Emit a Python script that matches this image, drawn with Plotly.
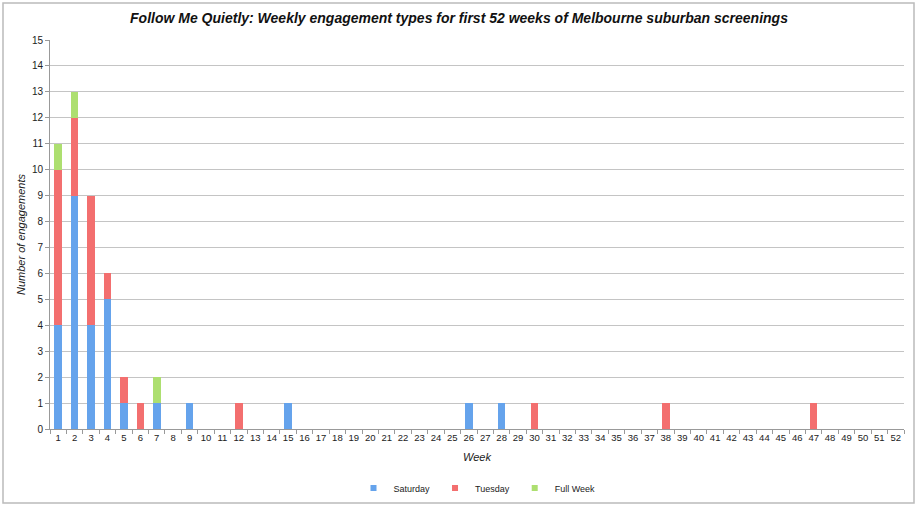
import plotly.graph_objects as go

weeks = [str(i) for i in range(1, 53)]
saturday_weeks = [1, 2, 3, 4, 5, 7, 9, 15, 26, 28]
saturday_vals = [4, 9, 4, 5, 1, 1, 1, 1, 1, 1]
tuesday_weeks = [1, 2, 3, 4, 5, 6, 12, 30, 38, 47]
tuesday_vals = [6, 3, 5, 1, 1, 1, 1, 1, 1, 1]
fullweek_weeks = [1, 2, 7]
fullweek_vals = [1, 1, 1]
y_ticks = list(range(0, 16))
series_names = ["Saturday", "Tuesday", "Full Week"]
series_colors = ["#65a3ec", "#f36f6f", "#addf70"]

def expand(wk, vals):
    d = dict(zip(wk, vals))
    return [d.get(int(w), 0) for w in weeks]

font = "Liberation Sans, Arial, sans-serif"
fig = go.Figure()
series_vals = [expand(saturday_weeks, saturday_vals),
               expand(tuesday_weeks, tuesday_vals),
               expand(fullweek_weeks, fullweek_vals)]
for name, col, vals in zip(series_names, series_colors, series_vals):
    fig.add_bar(x=weeks, y=vals, name=name, showlegend=False, legendgroup=name,
                marker=dict(color=col, line=dict(width=0)))
for name, col in zip(series_names, series_colors):
    fig.add_scatter(x=[None], y=[None], mode="markers", name=name, legendgroup=name,
                    marker=dict(symbol="square", size=6, color=col))

W, H = 918, 506
L, R, T, B = 50, 14, 40, 77
pw, ph = W - L - R, H - T - B

fig.update_layout(
    width=W, height=H, barmode="stack", bargap=0.54,
    margin=dict(l=L, r=R, t=T, b=B, autoexpand=False),
    paper_bgcolor="white", plot_bgcolor="white",
    font=dict(family=font, size=9, color="#222"),
    title=dict(text="<b><i>Follow Me Quietly: Weekly engagement types for first 52 weeks of Melbourne suburban screenings</i></b>",
               x=0.5, xanchor="center", y=1 - 18 / H, yanchor="middle",
               font=dict(family=font, size=14, color="#111")),
    xaxis=dict(type="category", categoryorder="array", categoryarray=weeks,
               tickmode="array", tickvals=weeks, ticktext=weeks, tickangle=0,
               automargin=False,
               showline=True, linecolor="#999", linewidth=1,
               ticks="outside", tickson="boundaries", ticklen=4, tickcolor="#999",
               showgrid=False, tickfont=dict(size=9.5),
               title=dict(text="<i>Week</i>", font=dict(size=11), standoff=10)),
    yaxis=dict(range=[0, 15], tickmode="array", tickvals=y_ticks,
               automargin=False,
               showline=True, linecolor="#999", linewidth=1,
               ticks="outside", ticklen=4, tickcolor="#999",
               showgrid=True, gridcolor="#c4c4c4", gridwidth=1.3,
               zeroline=False, tickfont=dict(size=10),
               title=dict(text="<i>Number of engagements</i>", font=dict(size=11), standoff=4)),
    legend=dict(orientation="h", x=0.5, xanchor="center", y=-(488 - 429) / ph, yanchor="middle",
                font=dict(size=9), itemwidth=30, traceorder="normal",
                bgcolor="rgba(0,0,0,0)"),
    shapes=[dict(type="rect", xref="paper", yref="paper",
                 x0=(3 - L) / pw, x1=(914 - L) / pw,
                 y0=-(503 - (H - B)) / ph, y1=1 + (T - 3) / ph,
                 line=dict(color="#bbb", width=1.5), layer="below")],
)
fig.write_html("out.html", config={"displayModeBar": False},
               post_script="document.body.style.margin='0';document.body.style.overflow='hidden';")
